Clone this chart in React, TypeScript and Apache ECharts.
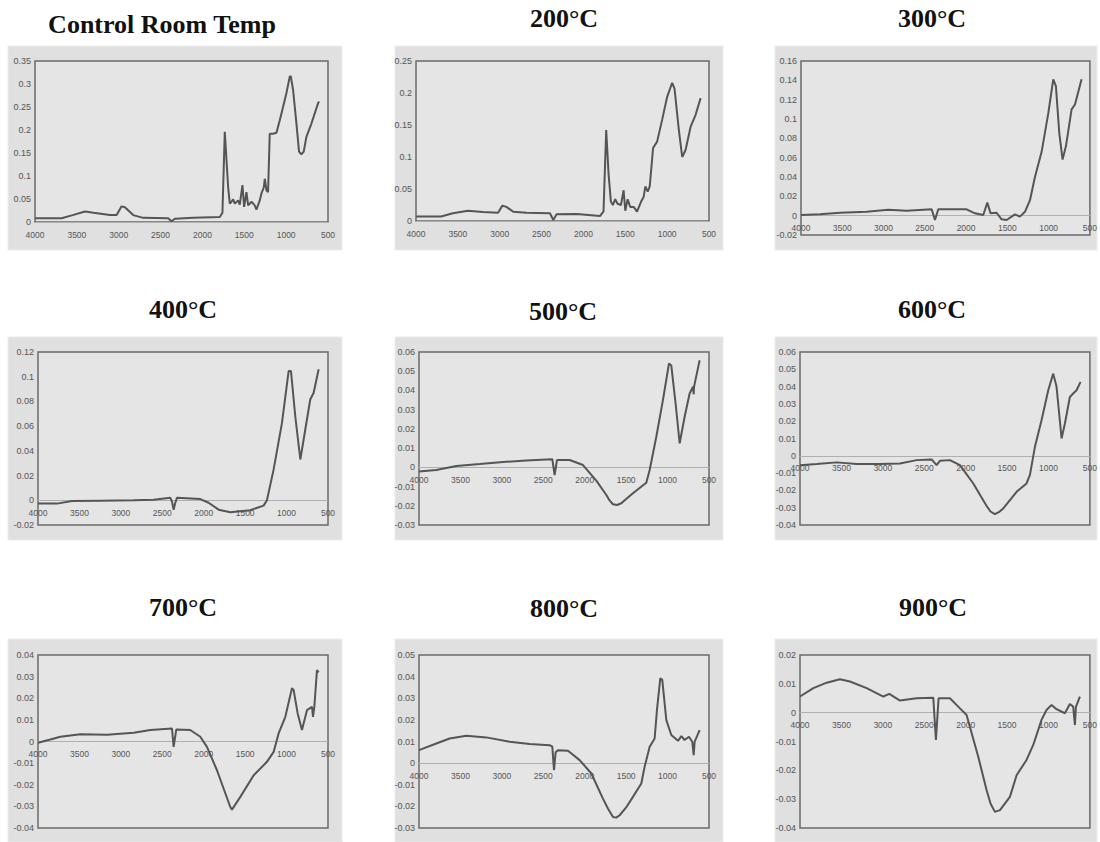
import React, { useEffect, useRef } from "react";
import * as echarts from "echarts";

// ---- Data (wavenumber cm-1, absorbance) ----
const titles = ["Control Room Temp", "200°C", "300°C", "400°C", "500°C", "600°C", "700°C", "800°C", "900°C"];
const xTicks = [4000, 3500, 3000, 2500, 2000, 1500, 1000, 500];
const yMins = [0, 0, -0.02, -0.02, -0.03, -0.04, -0.04, -0.03, -0.04];
const yMaxs = [0.35, 0.25, 0.16, 0.12, 0.06, 0.06, 0.04, 0.05, 0.02];
const yIntervals = [0.05, 0.05, 0.02, 0.02, 0.01, 0.01, 0.01, 0.01, 0.01];

const controlRoom: [number, number][] = [
  [4000, 0.008], [3682, 0.008], [3550, 0.015], [3403, 0.023], [3300, 0.02], [3105, 0.015], [3025, 0.015],
  [2966, 0.034], [2926, 0.032], [2827, 0.015], [2707, 0.009], [2409, 0.008], [2369, 0.0015], [2329, 0.007],
  [2111, 0.009], [1792, 0.011], [1761, 0.02], [1733, 0.196], [1693, 0.076], [1673, 0.04], [1653, 0.044],
  [1633, 0.049], [1613, 0.04], [1574, 0.047], [1554, 0.038], [1522, 0.08], [1502, 0.033], [1474, 0.065],
  [1454, 0.036], [1414, 0.044], [1375, 0.036], [1355, 0.027], [1315, 0.047], [1295, 0.062], [1267, 0.075],
  [1255, 0.094], [1235, 0.069], [1216, 0.065], [1196, 0.192], [1156, 0.192], [1116, 0.194], [1076, 0.221],
  [1037, 0.25], [997, 0.28], [957, 0.316], [945, 0.317], [917, 0.287], [877, 0.214], [846, 0.153],
  [818, 0.147], [790, 0.153], [758, 0.185], [698, 0.214], [619, 0.258], [607, 0.262],
];
const temp200: [number, number][] = [
  [4000, 0.007], [3700, 0.007], [3560, 0.012], [3380, 0.016], [3200, 0.014], [3020, 0.013], [2968, 0.024],
  [2920, 0.022], [2840, 0.0146], [2680, 0.013], [2400, 0.012], [2360, 0.0016], [2320, 0.0104], [2080, 0.011],
  [1800, 0.008], [1760, 0.015], [1728, 0.142], [1700, 0.074], [1672, 0.03], [1648, 0.025], [1620, 0.034],
  [1592, 0.027], [1552, 0.025], [1520, 0.048], [1500, 0.016], [1472, 0.034], [1440, 0.022], [1400, 0.022],
  [1360, 0.0146], [1312, 0.03], [1280, 0.038], [1260, 0.054], [1232, 0.046], [1208, 0.054], [1168, 0.114],
  [1120, 0.124], [1060, 0.158], [1000, 0.194], [940, 0.216], [912, 0.207], [860, 0.142], [820, 0.1],
  [780, 0.111], [720, 0.147], [660, 0.166], [600, 0.192],
];
const temp300: [number, number][] = [
  [4000, 0.0007], [3770, 0.0014], [3528, 0.003], [3205, 0.004], [2942, 0.006], [2720, 0.005], [2417, 0.0066],
  [2377, -0.0045], [2337, 0.0066], [1994, 0.0066], [1893, 0.0024], [1792, 0.0007], [1743, 0.0135], [1703, 0.0024],
  [1630, 0.003], [1570, -0.0038], [1509, -0.0045], [1408, 0.0014], [1348, -0.001], [1287, 0.004], [1226, 0.016],
  [1166, 0.04], [1085, 0.066], [1004, 0.106], [944, 0.141], [912, 0.134], [871, 0.0855], [831, 0.058],
  [790, 0.072], [722, 0.11], [681, 0.115], [601, 0.141],
];
const temp400: [number, number][] = [
  [4000, -0.0027], [3771, -0.0027], [3590, -0.0005], [3248, -0.0003], [2846, 0], [2604, 0.0005], [2403, 0.002],
  [2383, -0.001], [2363, -0.0076], [2343, -0.002], [2323, 0.002], [2041, 0.001], [1941, -0.002], [1820, -0.0076],
  [1679, -0.0097], [1438, -0.008], [1277, -0.0043], [1237, 0], [1156, 0.025], [1056, 0.0624], [975, 0.1046],
  [947, 0.1046], [895, 0.068], [834, 0.033], [774, 0.0573], [714, 0.0816], [673, 0.087], [613, 0.106],
];
const temp500: [number, number][] = [
  [4000, -0.0022], [3791, -0.0014], [3549, 0.0007], [3268, 0.0017], [2986, 0.0028], [2705, 0.0035], [2584, 0.0038],
  [2391, 0.0042], [2363, -0.004], [2335, 0.0038], [2182, 0.0038], [2021, 0.0012], [1860, -0.0069], [1739, -0.0144],
  [1700, -0.0172], [1659, -0.0192], [1610, -0.0196], [1558, -0.0187], [1500, -0.0165], [1418, -0.0135],
  [1257, -0.008], [1216, -0.0014], [1136, 0.0159], [1056, 0.035],
  [983, 0.054], [955, 0.053], [903, 0.0332], [854, 0.0125], [794, 0.0263], [734, 0.0384], [693, 0.0419],
  [685, 0.038], [680, 0.042], [613, 0.0557],
];
const temp600: [number, number][] = [
  [4000, -0.0054], [3799, -0.0048], [3558, -0.0038], [3316, -0.0048], [3035, -0.0048], [2793, -0.0044],
  [2592, -0.0025], [2411, -0.0021], [2351, -0.0054], [2311, -0.0029], [2190, -0.0025], [2069, -0.0054],
  [1908, -0.016], [1747, -0.029], [1700, -0.0322], [1647, -0.0337], [1600, -0.0326], [1546, -0.0304],
  [1385, -0.0208], [1265, -0.016],
  [1224, -0.011], [1164, 0.0052], [1084, 0.0206], [1003, 0.0379], [943, 0.0475], [903, 0.04], [842, 0.01],
  [802, 0.0187], [742, 0.034], [702, 0.036], [661, 0.0379], [613, 0.0427],
];
const temp700: [number, number][] = [
  [4000, -0.0006], [3851, 0.0009], [3730, 0.0022], [3489, 0.0034], [3167, 0.0031], [2846, 0.004], [2644, 0.0053],
  [2383, 0.006], [2363, -0.0025], [2331, 0.0056], [2162, 0.0053], [2041, 0.0022], [1961, -0.0025], [1840, -0.0133],
  [1679, -0.0303], [1659, -0.0315], [1558, -0.0256], [1397, -0.0156], [1237, -0.0094], [1156, -0.0048],
  [1096, 0.0037], [1015, 0.0114], [935, 0.0246], [915, 0.0238], [866, 0.013], [814, 0.0053], [754, 0.0145],
  [693, 0.016], [681, 0.0114], [665, 0.016], [633, 0.033], [613, 0.032],
];
const temp800: [number, number][] = [
  [4000, 0.006], [3791, 0.0091], [3630, 0.0114], [3429, 0.0127], [3187, 0.0119], [2906, 0.0099], [2665, 0.0088],
  [2424, 0.0083], [2391, 0.0076], [2371, -0.0032], [2351, 0.005], [2323, 0.006], [2202, 0.0057], [2061, 0.0014],
  [1920, -0.0048], [1780, -0.0164], [1720, -0.021], [1659, -0.0249], [1620, -0.0252], [1578, -0.0241],
  [1500, -0.0205], [1418, -0.0156], [1317, -0.0094],
  [1277, -0.0017], [1216, 0.0076], [1156, 0.0114], [1128, 0.0246], [1088, 0.0392], [1064, 0.0385], [1015, 0.0199],
  [955, 0.013], [874, 0.0103], [834, 0.0125], [794, 0.0107], [742, 0.0122], [702, 0.0099], [685, 0.0037],
  [673, 0.0099], [613, 0.0153],
];
const temp900: [number, number][] = [
  [4000, 0.0056], [3839, 0.0085], [3678, 0.0104], [3517, 0.0116], [3397, 0.0108], [3195, 0.0085], [2994, 0.0056],
  [2922, 0.0065], [2793, 0.0042], [2592, 0.005], [2391, 0.0052], [2359, -0.0095], [2327, 0.005], [2190, 0.005],
  [2069, 0.0015], [1989, -0.0008], [1848, -0.0153], [1747, -0.0269], [1700, -0.0315], [1647, -0.0344],
  [1586, -0.0338], [1466, -0.0292], [1385, -0.0217], [1265, -0.0164], [1184, -0.0112], [1084, -0.0025], [1024, 0.0009],
  [963, 0.0027], [903, 0.0012], [802, -0.0002], [742, 0.003], [702, 0.0021], [681, -0.0043], [669, 0.002],
  [621, 0.0056],
];
const spectra = [controlRoom, temp200, temp300, temp400, temp500, temp600, temp700, temp800, temp900];

// ---- Layout (pixels) ----
const panelCols = [
  { x: 8, w: 334 },
  { x: 395, w: 328 },
  { x: 775, w: 322 },
];
const panelRows = [
  { y: 46, h: 204 },
  { y: 337, h: 203 },
  { y: 639, h: 203 },
];
const gridRects = [
  { left: 35, top: 61, width: 293, height: 161 },
  { left: 416, top: 61, width: 293, height: 160 },
  { left: 801, top: 61, width: 289, height: 174 },
  { left: 38, top: 352, width: 290, height: 173 },
  { left: 419, top: 352, width: 290, height: 173 },
  { left: 800, top: 352, width: 290, height: 173 },
  { left: 38, top: 655, width: 290, height: 173 },
  { left: 419, top: 655, width: 290, height: 173 },
  { left: 800, top: 655, width: 290, height: 173 },
];
const titlePos = [
  { x: 162, y: 24 }, { x: 564, y: 18 }, { x: 932, y: 18 },
  { x: 183, y: 309 }, { x: 563, y: 311 }, { x: 932, y: 309 },
  { x: 183, y: 607 }, { x: 564, y: 608 }, { x: 933, y: 607 },
];

const fmt = (v: number) => String(parseFloat(v.toFixed(4)));

export default function App() {
  const ref = useRef<HTMLDivElement>(null);
  useEffect(() => {
    if (!ref.current) return;
    const chart = echarts.init(ref.current, null, { renderer: "svg" });

    const graphics: any[] = [];
    panelRows.forEach((r) =>
      panelCols.forEach((c) => {
        graphics.push({
          type: "rect",
          z: -10,
          shape: { x: c.x, y: r.y, width: c.w, height: r.h },
          style: { fill: "#e0e0e0", stroke: "#ebebeb", lineWidth: 1 },
        });
      })
    );
    titles.forEach((t, i) => {
      graphics.push({
        type: "text",
        x: titlePos[i].x,
        y: titlePos[i].y,
        style: {
          text: t,
          font: 'bold 26px "Liberation Serif", "Times New Roman", serif',
          fill: "#111",
          textAlign: "center",
          textVerticalAlign: "middle",
        },
      });
    });

    const option: any = {
      animation: false,
      backgroundColor: "#ffffff",
      graphic: { elements: graphics },
      grid: gridRects.map((g) => ({
        ...g,
        show: true,
        backgroundColor: "#e5e5e5",
        borderColor: "#6a6a6a",
        borderWidth: 1.5,
        containLabel: false,
      })),
      xAxis: titles.map((_, i) => {
        const g = gridRects[i];
        const zeroY = g.top + (g.height * yMaxs[i]) / (yMaxs[i] - yMins[i]);
        const bottom = g.top + g.height;
        return {
          type: "value",
          gridIndex: i,
          min: xTicks[xTicks.length - 1],
          max: xTicks[0],
          interval: 500,
          inverse: true,
          axisLine: { show: true, onZero: true, lineStyle: { color: "#b0b0b0", width: 1 } },
          axisTick: { show: false },
          axisLabel: {
            show: true,
            fontSize: 8.5,
            color: "#555",
            fontFamily: '"Liberation Sans", Arial, sans-serif',
            margin: zeroY - bottom + 8,
            showMinLabel: true,
            showMaxLabel: true,
            formatter: (v: number) => String(v),
          },
          splitLine: { show: false },
        };
      }),
      yAxis: titles.map((_, i) => ({
        type: "value",
        gridIndex: i,
        min: yMins[i],
        max: yMaxs[i],
        interval: yIntervals[i],
        axisLine: { show: false },
        axisTick: { show: false },
        axisLabel: {
          fontSize: 9,
          color: "#555",
          fontFamily: '"Liberation Sans", Arial, sans-serif',
          margin: 4,
          formatter: (v: number) => fmt(v),
        },
        splitLine: { show: false },
      })),
      series: spectra.map((d, i) => ({
        type: "line",
        xAxisIndex: i,
        yAxisIndex: i,
        data: d,
        showSymbol: false,
        symbol: "none",
        lineStyle: { color: "#555555", width: 2 },
        z: 3,
      })),
    };
    chart.setOption(option);
    return () => chart.dispose();
  }, []);

  return (
    <div
      ref={ref}
      style={{ position: "absolute", left: 0, top: 0, width: 1100, height: 842, background: "#fff" }}
    />
  );
}
